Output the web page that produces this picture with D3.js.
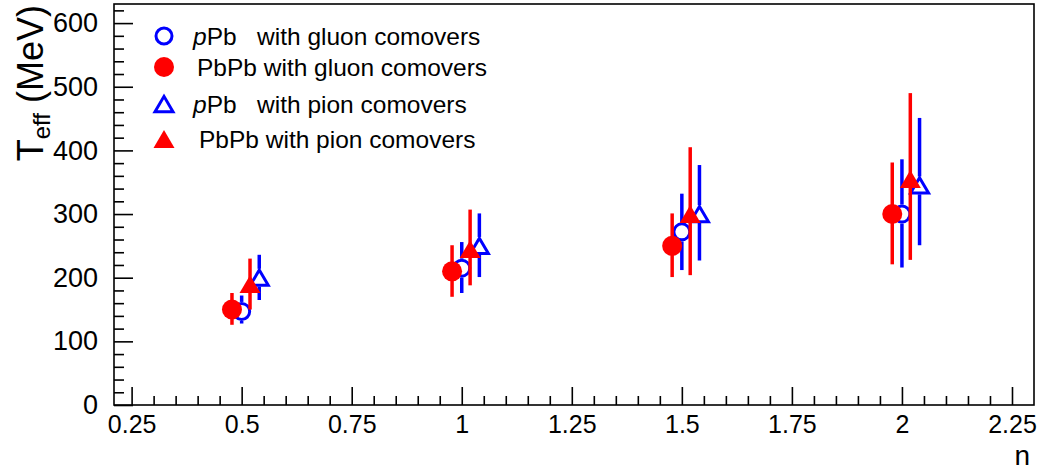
<!DOCTYPE html>
<html>
<head>
<meta charset="utf-8">
<script src="https://cdn.jsdelivr.net/npm/d3@7"></script>
<style>
  html, body { margin: 0; padding: 0; background: #fff; }
  svg { display: block; font-family: "Liberation Sans", Arial, Helvetica, sans-serif; }
</style>
</head>
<body>
<svg id="chart" width="1040" height="472"></svg>
<script>
// ---- data ----
const groups = [0.5, 1, 1.5, 2];
const seriesNames = ["pPb gluon", "PbPb gluon", "pPb pion", "PbPb pion"];
const seriesOffsets = [0, -0.022, 0.04, 0.019];

const pPbGluonY   = [147, 215, 272, 300];
const pPbGluonLo  = [128, 176, 212, 216];
const pPbGluonHi  = [172, 256, 332, 386];

const PbPbGluonY  = [150, 210, 250, 300];
const PbPbGluonLo = [126, 170, 201, 221];
const PbPbGluonHi = [176, 251, 301, 381];

const pPbPionY    = [200, 250, 300, 345];
const pPbPionLo   = [165, 201, 227, 251];
const pPbPionHi   = [236, 301, 377, 451];

const PbPbPionY   = [190, 245, 300, 355];
const PbPbPionLo  = [150, 188, 204, 228];
const PbPbPionHi  = [230, 307, 405, 490];

const xTicks = [0.25, 0.5, 0.75, 1, 1.25, 1.5, 1.75, 2, 2.25];
const xTickLabels = ["0.25", "0.5", "0.75", "1", "1.25", "1.5", "1.75", "2", "2.25"];
const yTicks = [0, 100, 200, 300, 400, 500, 600];
const yTickLabels = ["0", "100", "200", "300", "400", "500", "600"];

const legendLabels = [
  ["p", "Pb   with gluon comovers"],
  ["", "PbPb with gluon comovers"],
  ["p", "Pb   with pion comovers"],
  ["", "PbPb with pion comovers"]
];

// ---- layout ----
const svg = d3.select("#chart");
const L = 114, R = 1034, T = 4, B = 405;
const x = d3.scaleLinear().domain([0.21, 2.3]).range([L, R]);
const y = d3.scaleLinear().domain([0, 630]).range([B, T]);

const BLUE = "#0000ff", RED = "#ff0000";

// frame
svg.append("rect").attr("x", L).attr("y", T).attr("width", R - L).attr("height", B - T)
  .attr("fill", "none").attr("stroke", "#000").attr("stroke-width", 1.6);

// minor ticks
const xMinor = d3.range(0.25, 2.2501, 0.05).map(v => +v.toFixed(2)).filter(v => Math.abs(v / 0.25 - Math.round(v / 0.25)) > 1e-6);
const yMinor = d3.range(0, 621, 20).filter(v => v % 100 !== 0);

svg.append("g").attr("transform", `translate(0,${B})`)
  .call(d3.axisBottom(x).tickValues(xMinor).tickSize(-9).tickFormat(""))
  .call(g => g.select(".domain").remove())
  .call(g => g.selectAll("line").attr("stroke-width", 1.6));
svg.append("g").attr("transform", `translate(${L},0)`)
  .call(d3.axisLeft(y).tickValues(yMinor).tickSize(-10).tickFormat(""))
  .call(g => g.select(".domain").remove())
  .call(g => g.selectAll("line").attr("stroke-width", 1.6));

// major ticks + labels
svg.append("g").attr("transform", `translate(0,${B})`)
  .call(d3.axisBottom(x).tickValues(xTicks).tickSize(-18).tickPadding(10)
    .tickFormat((d, i) => xTickLabels[i]))
  .call(g => g.select(".domain").remove())
  .call(g => g.selectAll("line").attr("stroke-width", 1.6))
  .call(g => g.selectAll("text").attr("font-size", 25).attr("fill", "#000")
    .attr("font-family", "'Liberation Sans', Arial, sans-serif"));
svg.append("g").attr("transform", `translate(${L},0)`)
  .call(d3.axisLeft(y).tickValues(yTicks).tickSize(-19).tickPadding(16)
    .tickFormat((d, i) => yTickLabels[i]))
  .call(g => g.select(".domain").remove())
  .call(g => g.selectAll("line").attr("stroke-width", 1.6))
  .call(g => g.selectAll("text").attr("font-size", 27).attr("fill", "#000")
    .attr("font-family", "'Liberation Sans', Arial, sans-serif"));

// axis titles
const yt = svg.append("text")
  .attr("transform", `translate(43,${T + 1}) rotate(-90)`)
  .attr("text-anchor", "end").attr("font-size", 36).attr("fill", "#000");
yt.append("tspan").text("T");
yt.append("tspan").attr("font-size", 24).attr("dy", 7).text("eff");
yt.append("tspan").attr("dy", -7).text(" (MeV)");

svg.append("text").attr("x", R - 4).attr("y", 465).attr("text-anchor", "end")
  .attr("font-size", 28).attr("fill", "#000").text("n");

// ---- markers ----
const CR = 9.5;   // circle radius
const TR = 10.5;  // triangle half-size
function triPath(cx, cy, s) {
  return `M${cx - s},${cy + s * 0.85}L${cx + s},${cy + s * 0.85}L${cx},${cy - s * 0.85}Z`;
}

function drawSeries(vals, lo, hi, off, color, shape, open) {
  const g = svg.append("g");
  groups.forEach((n, i) => {
    const cx = x(n + off), cy = y(vals[i]);
    const gap = open ? (shape === "circle" ? CR : TR * 0.85) : 0;
    // error bars (ROOT style: stop at marker edge)
    g.append("line").attr("x1", cx).attr("x2", cx).attr("y1", y(hi[i])).attr("y2", cy - gap)
      .attr("stroke", color).attr("stroke-width", 3.5);
    g.append("line").attr("x1", cx).attr("x2", cx).attr("y1", cy + gap).attr("y2", y(lo[i]))
      .attr("stroke", color).attr("stroke-width", 3.5);
    if (shape === "circle") {
      g.append("circle").attr("cx", cx).attr("cy", cy).attr("r", open ? CR - 1.5 : CR + 0.5)
        .attr("fill", open ? "none" : color).attr("stroke", open ? color : "none")
        .attr("stroke-width", 3);
    } else {
      g.append("path").attr("d", triPath(cx, cy, open ? TR - 1.5 : TR))
        .attr("fill", open ? "none" : color).attr("stroke", open ? color : "none")
        .attr("stroke-width", 3).attr("stroke-linejoin", "miter");
    }
  });
}

drawSeries(pPbGluonY, pPbGluonLo, pPbGluonHi, seriesOffsets[0], BLUE, "circle", true);
drawSeries(PbPbGluonY, PbPbGluonLo, PbPbGluonHi, seriesOffsets[1], RED, "circle", false);
drawSeries(pPbPionY, pPbPionLo, pPbPionHi, seriesOffsets[2], BLUE, "tri", true);
drawSeries(PbPbPionY, PbPbPionLo, PbPbPionHi, seriesOffsets[3], RED, "tri", false);

// ---- legend ----
const legY = [36, 67, 104, 139];
const legTextX = [193, 197, 193, 199];
const legMarkerX = 164;
const legStyle = [
  { color: BLUE, shape: "circle", open: true },
  { color: RED, shape: "circle", open: false },
  { color: BLUE, shape: "tri", open: true },
  { color: RED, shape: "tri", open: false }
];
legendLabels.forEach((lab, i) => {
  const st = legStyle[i];
  if (st.shape === "circle") {
    svg.append("circle").attr("cx", legMarkerX).attr("cy", legY[i]).attr("r", st.open ? CR - 1.5 : CR + 0.5)
      .attr("fill", st.open ? "none" : st.color).attr("stroke", st.open ? st.color : "none").attr("stroke-width", 3);
  } else {
    svg.append("path").attr("d", triPath(legMarkerX, legY[i], st.open ? TR - 1.5 : TR))
      .attr("fill", st.open ? "none" : st.color).attr("stroke", st.open ? st.color : "none").attr("stroke-width", 3);
  }
  const t = svg.append("text").attr("x", legTextX[i]).attr("y", legY[i] + 8.5)
    .attr("font-size", 24.5).attr("fill", "#000").attr("xml:space", "preserve").style("white-space", "pre");
  if (lab[0]) t.append("tspan").attr("font-style", "italic").text(lab[0]);
  t.append("tspan").text(lab[1]);
});
</script>
</body>
</html>
